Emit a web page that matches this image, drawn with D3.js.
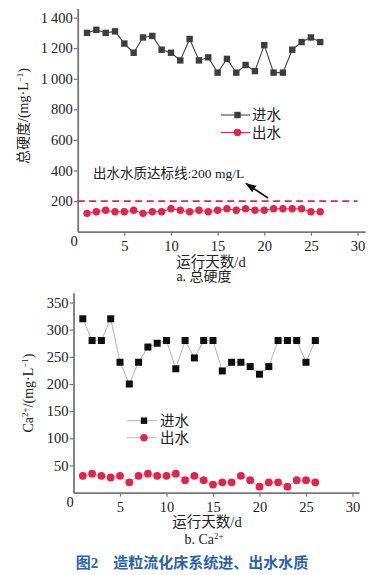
<!DOCTYPE html>
<html><head><meta charset="utf-8">
<script src="https://cdn.jsdelivr.net/npm/d3@7"></script>
<style>
body{margin:0;background:#fff;}
svg{display:block;}
text{font-family:"Liberation Serif","Noto Sans CJK SC",serif;}
.cjk{font-family:"Liberation Serif","Noto Sans CJK SC",serif;}
</style></head>
<body><svg id="c" width="392" height="575"></svg>
<script>
const days = d3.range(1, 27);
const hardIn  = [1300,1320,1300,1310,1230,1170,1270,1280,1190,1170,1120,1260,1120,1140,1040,1130,1040,1090,1050,1220,1040,1040,1190,1240,1270,1240];
const hardOut = [120,130,140,130,130,140,120,130,130,150,140,130,140,130,140,150,140,150,140,140,150,150,150,150,130,130];
const caIn  = [320,280,280,320,240,200,240,268,275,280,228,280,248,280,280,224,240,240,232,218,232,280,280,280,240,280];
const caOut = [31,35,31,28,31,19,31,35,31,31,35,23,31,23,15,19,19,31,23,11,19,19,11,23,23,19];
const xTicks = [0,5,10,15,20,25,30];
const hardTicks = [200,400,600,800,1000,1200,1400];
const caTicks = [50,100,150,200,250,300,350];
const hardLimit = 200;

const svg = d3.select("#c");
const axisColor = "#777";
const red = "#e3234a";

function fmtThousand(v){ return v >= 1000 ? Math.floor(v/1000) + "\u2009" + String(v%1000).padStart(3,"0") : String(v); }

function panel(cfg){
  const x = d3.scaleLinear().domain(cfg.xDom).range(cfg.xRange);
  const y = d3.scaleLinear().domain(cfg.yDom).range(cfg.yRange);
  const g = svg.append("g");
  // axes
  const xa = g.append("g").attr("transform",`translate(0,${cfg.yRange[0]})`)
    .call(d3.axisBottom(x).tickValues(xTicks).tickSize(4).tickSizeOuter(0).tickPadding(2));
  const ya = g.append("g").attr("transform",`translate(${cfg.xRange[0]},0)`)
    .call(d3.axisLeft(y).tickValues(cfg.yTicks).tickSize(4).tickSizeOuter(0).tickPadding(1).tickFormat(cfg.fmt));
  [xa,ya].forEach(a=>{
    a.select(".domain").attr("stroke",axisColor).attr("stroke-width",1.8);
    a.selectAll(".tick line").attr("stroke",axisColor).attr("stroke-width",1.2);
    a.selectAll(".tick text").attr("fill","#222").style("font-size","14.5px").style("font-family","Liberation Serif");
  });
  xa.selectAll(".tick text").attr("dy","0.9em");
  xa.selectAll(".tick").filter(d=>d===0).select("text").attr("dx",-4).attr("dy","0.6em");
  xa.selectAll(".tick").filter(d=>d===0).select("line").remove();
  return {x,y,g};
}

// ---------- Panel a ----------
const A = panel({xDom:[0,30.8], xRange:[77.7,365], yDom:[0,1460], yRange:[231.7,8.4], yTicks:hardTicks, fmt:fmtThousand});
// limit dashed line
A.g.append("line").attr("x1",A.x(0)).attr("x2",A.x(30)).attr("y1",A.y(hardLimit)).attr("y2",A.y(hardLimit))
  .attr("stroke",red).attr("stroke-width",1.6).attr("stroke-dasharray","7,4.5");
const lineA = d3.line().x((d,i)=>A.x(days[i])).y(d=>A.y(d));
A.g.append("path").datum(hardIn).attr("d",lineA).attr("fill","none").attr("stroke","#444").attr("stroke-width",1.1);
A.g.selectAll(".sqA").data(hardIn).join("rect").attr("x",(d,i)=>A.x(days[i])-3.2).attr("y",d=>A.y(d)-3.2)
  .attr("width",6.4).attr("height",6.4).attr("fill","#3d3d3d");
A.g.append("path").datum(hardOut).attr("d",lineA).attr("fill","none").attr("stroke",red).attr("stroke-width",1);
A.g.selectAll(".ciA").data(hardOut).join("circle").attr("cx",(d,i)=>A.x(days[i])).attr("cy",d=>A.y(d)).attr("r",3.7).attr("fill",red);
// annotation
svg.append("text").attr("x",93).attr("y",178).style("font-size","13.5px").attr("fill","#222").text("出水水质达标线:200 mg/L");
svg.append("defs").append("marker").attr("id","ah").attr("viewBox","0 0 10 10").attr("refX",9).attr("refY",5)
  .attr("markerWidth",7).attr("markerHeight",7).attr("orient","auto")
  .append("path").attr("d","M0,1.5 L10,5 L0,8.5 Z").attr("fill","#111");
svg.append("line").attr("x1",268).attr("y1",198).attr("x2",246).attr("y2",183.5).attr("stroke","#111").attr("stroke-width",1.6).attr("marker-end","url(#ah)");
// legend a
function legend(x0,x1,tx,yy,col,lw,shape,mcol){
  svg.append("line").attr("x1",x0).attr("x2",x1).attr("y1",yy).attr("y2",yy).attr("stroke",col).attr("stroke-width",lw);
  const mx=(x0+x1)/2+2;
  if(shape==="sq") svg.append("rect").attr("x",mx-3.2).attr("y",yy-3.2).attr("width",6.4).attr("height",6.4).attr("fill",mcol);
  else svg.append("circle").attr("cx",mx).attr("cy",yy).attr("r",3.7).attr("fill",mcol);
}
legend(221,250,0,115,"#444",1.1,"sq","#3d3d3d");
legend(221,250,0,132.5,red,1,"ci",red);
svg.append("text").attr("x",252).attr("y",120).style("font-size","14.5px").attr("fill","#222").text("进水");
svg.append("text").attr("x",252).attr("y",137.5).style("font-size","14.5px").attr("fill","#222").text("出水");
// labels a
svg.append("text").attr("transform","translate(28,116) rotate(-90)").attr("text-anchor","middle").style("font-size","14px").attr("fill","#222")
  .html('总硬度/(mg·L<tspan dy="-5" font-size="9">−1</tspan><tspan dy="5">)</tspan>');
svg.append("text").attr("x",211).attr("y",267).attr("text-anchor","middle").style("font-size","14.5px").attr("fill","#222").text("运行天数/d");
svg.append("text").attr("x",204).attr("y",281).attr("text-anchor","middle").style("font-size","14px").attr("fill","#222").text("a. 总硬度");

// ---------- Panel b ----------
const B = panel({xDom:[0,30.7], xRange:[73.5,359], yDom:[0,368], yRange:[492.7,292.7], yTicks:caTicks, fmt:d=>d});
const lineB = d3.line().x((d,i)=>B.x(days[i])).y(d=>B.y(d));
B.g.append("path").datum(caIn).attr("d",lineB).attr("fill","none").attr("stroke","#b3b3b3").attr("stroke-width",1);
B.g.selectAll(".sqB").data(caIn).join("rect").attr("x",(d,i)=>B.x(days[i])-3.5).attr("y",d=>B.y(d)-3.5)
  .attr("width",7).attr("height",7).attr("fill","#0d0d0d");
B.g.append("path").datum(caOut).attr("d",lineB).attr("fill","none").attr("stroke","#f0a0b0").attr("stroke-width",1);
B.g.selectAll(".ciB").data(caOut).join("circle").attr("cx",(d,i)=>B.x(days[i])).attr("cy",d=>B.y(d)).attr("r",3.9).attr("fill",red);
legend(127,157,0,420.7,"#b3b3b3",1,"sq","#0d0d0d");
legend(127,157,0,437.7,"#f0a0b0",1,"ci",red);
svg.append("text").attr("x",160).attr("y",426).style("font-size","14.5px").attr("fill","#222").text("进水");
svg.append("text").attr("x",160).attr("y",443).style("font-size","14.5px").attr("fill","#222").text("出水");
svg.append("text").attr("transform","translate(33,393) rotate(-90)").attr("text-anchor","middle").style("font-size","14px").attr("fill","#222")
  .html('Ca<tspan dy="-5" font-size="9">2+</tspan><tspan dy="5">/(mg·L</tspan><tspan dy="-5" font-size="9">−1</tspan><tspan dy="5">)</tspan>');
svg.append("text").attr("x",207).attr("y",527).attr("text-anchor","middle").style("font-size","14.5px").attr("fill","#222").text("运行天数/d");
svg.append("text").attr("x",204).attr("y",544).attr("text-anchor","middle").style("font-size","14px").attr("fill","#222")
  .html('b. Ca<tspan dy="-5" font-size="9">2+</tspan>');
// title
svg.append("text").attr("x",192).attr("y",568).attr("text-anchor","middle").style("font-size","15px").style("font-weight","bold")
  .attr("fill","#2d62a8").attr("xml:space","preserve").text("图2　造粒流化床系统进、出水水质");
</script></body></html>
